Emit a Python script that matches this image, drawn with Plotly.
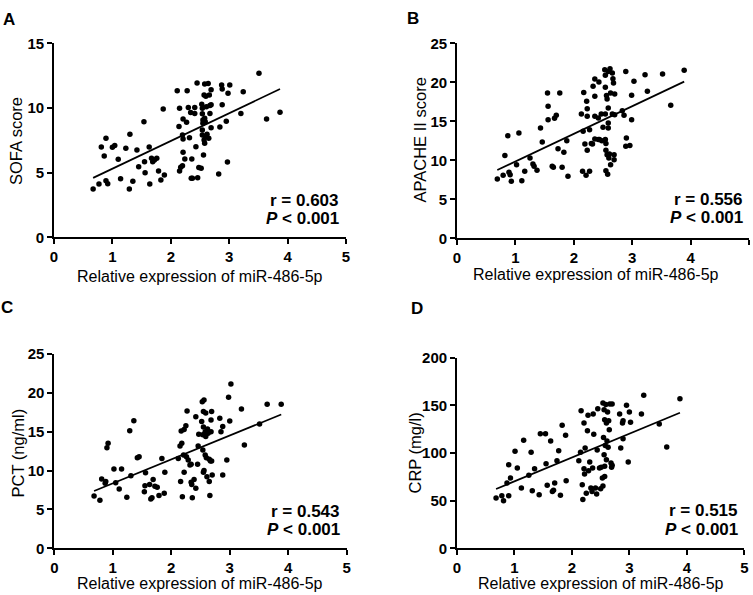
import numpy as np
import plotly.graph_objects as go

W, H = 753, 595
FONT = "Liberation Sans, Arial, Helvetica, sans-serif"

# ---------------- data ----------------
x_label = "Relative expression of miR-486-5p"
x_ticks = [0, 1, 2, 3, 4, 5]

sofa_x = [0.67, 0.77, 0.81, 0.86, 0.89, 0.89, 0.92, 1.00, 1.04, 1.10,
          1.14, 1.23, 1.29, 1.30, 1.35, 1.42, 1.45, 1.54, 1.55, 1.56,
          1.63, 1.64, 1.67, 1.69, 1.72, 1.76, 1.79, 1.83, 1.87, 1.89,
          2.11, 2.14, 2.15, 2.15, 2.17, 2.20, 2.20, 2.21, 2.21, 2.21,
          2.24, 2.27, 2.28, 2.30, 2.32, 2.34, 2.35, 2.36, 2.37, 2.41,
          2.41, 2.43, 2.45, 2.46, 2.48, 2.52, 2.53, 2.54, 2.54, 2.55,
          2.55, 2.54, 2.54, 2.56, 2.57, 2.57, 2.58, 2.58, 2.58, 2.59,
          2.59, 2.60, 2.61, 2.62, 2.64, 2.65, 2.66, 2.67, 2.67, 2.69,
          2.69, 2.69, 2.82, 2.84, 2.87, 2.88, 2.88, 2.95, 2.97, 2.98,
          3.01, 3.20, 3.24, 3.51, 3.64, 3.87]
sofa_y = [3.74, 4.12, 6.98, 6.29, 7.66, 4.38, 4.15, 6.96, 7.09, 6.03,
          4.53, 6.88, 3.74, 7.96, 4.33, 6.75, 5.46, 8.94, 5.85, 5.00,
          6.98, 4.12, 6.11, 5.85, 5.98, 6.11, 5.13, 4.43, 9.92, 4.82,
          11.34, 8.56, 9.98, 5.13, 5.41, 5.54, 7.91, 7.60, 9.15, 6.57,
          6.06, 8.89, 11.34, 10.04, 7.70, 9.64, 4.56, 6.06, 4.56, 10.04,
          9.58, 7.01, 11.93, 4.60, 5.39, 5.34, 10.29, 9.98, 9.56, 9.07,
          8.81, 8.30, 7.91, 6.37, 11.00, 7.52, 11.86, 9.20, 7.27, 8.94,
          7.78, 10.90, 10.10, 7.96, 11.90, 7.65, 11.00, 10.20, 9.58, 11.40,
          8.48, 10.25, 4.90, 8.52, 11.78, 11.47, 10.25, 8.97, 5.82, 11.13,
          11.78, 9.58, 11.26, 12.68, 9.15, 9.67]

apache_x = [0.69, 0.79, 0.82, 0.87, 0.89, 0.91, 0.93, 1.02, 1.06, 1.11,
            1.16, 1.25, 1.30, 1.32, 1.37, 1.43, 1.46, 1.55, 1.56, 1.56,
            1.63, 1.65, 1.67, 1.70, 1.73, 1.76, 1.80, 1.83, 1.88, 1.90,
            2.13, 2.15, 2.16, 2.17, 2.19, 2.21, 2.22, 2.23, 2.23, 2.23,
            2.27, 2.27, 2.30, 2.32, 2.33, 2.36, 2.36, 2.36, 2.36, 2.42,
            2.42, 2.43, 2.44, 2.47, 2.48, 2.50, 2.53, 2.54, 2.54, 2.54,
            2.54, 2.55, 2.55, 2.55, 2.56, 2.57, 2.57, 2.58, 2.59, 2.59,
            2.59, 2.59, 2.60, 2.61, 2.62, 2.63, 2.63, 2.66, 2.66, 2.67,
            2.68, 2.69, 2.69, 2.70, 2.70, 2.83, 2.86, 2.89, 2.90, 2.89,
            2.96, 2.99, 2.99, 3.03, 3.22, 3.26, 3.52, 3.66, 3.89]
apache_y = [7.60, 8.07, 10.60, 13.15, 8.46, 8.16, 7.30, 9.44, 13.50, 7.38,
            8.59, 10.30, 9.53, 9.23, 8.74, 14.14, 12.35, 18.63, 16.92, 15.20,
            9.23, 9.10, 15.40, 15.77, 11.49, 18.63, 9.10, 11.02, 12.51, 7.95,
            15.94, 8.59, 13.72, 18.70, 12.09, 8.07, 17.56, 16.62, 15.64, 11.30,
            13.92, 8.59, 12.16, 12.10, 19.48, 20.42, 18.20, 15.64, 12.73, 15.43,
            12.66, 20.04, 12.66, 15.94, 12.51, 14.23, 21.62, 20.90, 19.36, 15.94,
            12.66, 12.16, 11.30, 8.67, 18.30, 17.86, 10.72, 8.21, 21.40, 14.78,
            14.14, 16.70, 10.30, 10.80, 21.75, 18.63, 9.44, 21.19, 15.94, 20.46,
            19.90, 10.70, 10.08, 15.85, 18.50, 16.36, 15.77, 21.40, 12.86, 11.80,
            11.90, 15.20, 18.33, 20.13, 20.97, 18.85, 21.05, 17.05, 21.54]

pct_x = [0.68, 0.78, 0.81, 0.87, 0.88, 0.90, 0.92, 1.02, 1.05, 1.11,
         1.15, 1.24, 1.29, 1.31, 1.36, 1.42, 1.45, 1.54, 1.56, 1.55,
         1.63, 1.65, 1.67, 1.69, 1.72, 1.76, 1.79, 1.84, 1.88, 1.89,
         2.12, 2.15, 2.16, 2.18, 2.17, 2.19, 2.21, 2.22, 2.22, 2.25,
         2.26, 2.27, 2.29, 2.32, 2.34, 2.34, 2.35, 2.36, 2.39, 2.42,
         2.42, 2.45, 2.46, 2.47, 2.52, 2.53, 2.54, 2.54, 2.55, 2.55,
         2.55, 2.56, 2.56, 2.58, 2.58, 2.59, 2.59, 2.60, 2.61, 2.62,
         2.63, 2.65, 2.65, 2.66, 2.67, 2.68, 2.68, 2.69, 2.69, 2.70,
         2.83, 2.85, 2.88, 2.88, 2.95, 2.98, 3.00, 3.02, 3.20, 3.25,
         3.51, 3.64, 3.88]
pct_y = [6.73, 6.18, 8.92, 8.36, 8.58, 12.95, 13.51, 10.20, 8.45, 7.63,
         10.20, 6.56, 15.14, 9.34, 16.42, 11.66, 11.79, 7.29, 9.73, 8.06,
         8.20, 6.35, 6.50, 8.85, 7.98, 7.85, 6.78, 11.57, 7.08, 9.77,
         11.57, 13.17, 8.58, 13.51, 15.10, 6.63, 12.00, 15.30, 9.77, 15.78,
         11.79, 17.67, 11.36, 10.72, 10.80, 8.50, 8.20, 6.50, 8.85, 7.72,
         16.94, 10.80, 13.17, 14.67, 16.30, 18.87, 14.60, 12.65, 9.77, 17.60,
         15.60, 19.08, 10.00, 12.00, 14.99, 17.40, 14.40, 11.66, 9.22, 15.35,
         14.79, 11.45, 8.58, 6.78, 11.23, 16.51, 14.99, 17.60, 11.23, 9.43,
         16.73, 14.99, 15.67, 9.43, 11.36, 19.43, 16.38, 21.15, 17.93, 13.29,
         16.00, 18.53, 18.53]

crp_x = [0.68, 0.78, 0.81, 0.87, 0.90, 0.90, 0.93, 1.01, 1.05, 1.12,
         1.16, 1.25, 1.29, 1.31, 1.35, 1.43, 1.45, 1.54, 1.55, 1.57,
         1.63, 1.66, 1.68, 1.70, 1.74, 1.77, 1.80, 1.83, 1.89, 1.90,
         2.12, 2.15, 2.16, 2.18, 2.19, 2.21, 2.21, 2.22, 2.23, 2.25,
         2.27, 2.28, 2.29, 2.31, 2.33, 2.35, 2.37, 2.38, 2.36, 2.41,
         2.43, 2.44, 2.45, 2.48, 2.50, 2.51, 2.53, 2.54, 2.54, 2.55,
         2.56, 2.56, 2.57, 2.57, 2.57, 2.58, 2.59, 2.60, 2.60, 2.61,
         2.62, 2.63, 2.64, 2.65, 2.66, 2.68, 2.69, 2.70, 2.70, 2.83,
         2.85, 2.88, 2.89, 2.89, 2.95, 2.98, 3.00, 3.02, 3.21, 3.25,
         3.52, 3.65, 3.88]
crp_y = [52.8, 55.2, 50.0, 68.5, 55.2, 87.7, 73.8, 101.8, 84.3, 63.3,
         113.3, 76.6, 100.8, 60.4, 83.6, 56.2, 120.3, 120.3, 88.8, 66.1,
         112.6, 59.7, 60.8, 68.5, 91.9, 102.4, 55.6, 129.0, 118.6, 70.9,
         91.9, 100.9, 144.4, 66.8, 51.2, 131.5, 83.6, 78.0, 105.2, 57.8,
         123.4, 139.5, 81.4, 90.6, 63.3, 59.7, 140.9, 119.6, 84.3, 63.3,
         57.0, 103.1, 146.5, 84.3, 62.6, 85.0, 73.8, 152.5, 65.5, 116.3,
         145.4, 98.2, 75.4, 135.0, 86.1, 108.0, 150.8, 131.5, 93.0, 112.6,
         143.0, 106.0, 133.9, 124.5, 151.5, 89.6, 85.0, 151.5, 87.1, 140.9,
         105.2, 131.5, 133.9, 115.0, 150.0, 90.6, 143.0, 132.2, 140.9, 160.5,
         130.4, 106.3, 157.0]

panel_letters = ["A", "B", "C", "D"]
y_titles = ["SOFA score", "APACHE II score", "PCT (ng/ml)", "CRP (mg/l)"]
y_ticks = [[0, 5, 10, 15], [0, 5, 10, 15, 20, 25],
           [0, 5, 10, 15, 20, 25], [0, 50, 100, 150, 200]]
r_values = ["0.603", "0.556", "0.543", "0.515"]
p_text = "< 0.001"

xs = [sofa_x, apache_x, pct_x, crp_x]
ys = [sofa_y, apache_y, pct_y, crp_y]

# ---------------- layout geometry (pixels) ----------------
# plot box: left, right, top, bottom
boxes = [(54, 346, 43.3, 237.3), (457, 749, 43.3, 238.3),
         (54.3, 346.7, 354, 548.3), (457, 744.3, 357.7, 548.3)]
letter_pos = [(9, 20), (413, 18.5), (7, 307), (417, 308)]
xtitle_pos = [(200, 276.5), (596, 274.5), (200, 583.5), (601, 583.5)]
ytitle_pos = [(16, 141), (419.5, 140), (17.5, 453), (414.5, 453)]
stat_pos = [(341, 200, 218), (745, 199.5, 217.5), (342, 511.5, 529.5),
            (740, 511, 529)]


def fx(px):
    return px / W


def fy(py):
    return 1 - py / H


def bold_labels(vals):
    return ["<b>%g</b>" % v for v in vals]


fig = go.Figure()
annotations = []
layout = {}

for i in range(4):
    n = i + 1
    sx = "" if n == 1 else str(n)
    l, r, t, b = boxes[i]
    x = np.array(xs[i])
    y = np.array(ys[i])

    fig.add_trace(go.Scatter(
        x=x, y=y, mode="markers", xaxis="x" + sx, yaxis="y" + sx,
        marker=dict(color="black", size=5.5, line=dict(width=0)),
        hoverinfo="x+y", cliponaxis=False))

    slope, intercept = np.polyfit(x, y, 1)
    lx = np.array([x.min(), x.max()])
    fig.add_trace(go.Scatter(
        x=lx, y=slope * lx + intercept, mode="lines",
        xaxis="x" + sx, yaxis="y" + sx,
        line=dict(color="black", width=1.7), hoverinfo="skip"))

    common = dict(showline=True, linecolor="black", linewidth=1.7,
                  ticks="outside", ticklen=5, tickwidth=1.7, tickcolor="black",
                  showgrid=False, zeroline=False, fixedrange=True,
                  automargin=False,
                  tickfont=dict(family=FONT, size=15, color="black"))
    layout["xaxis" + sx] = dict(
        domain=[fx(l), fx(r)], range=[0, 5], tickmode="array",
        tickvals=x_ticks, ticktext=bold_labels(x_ticks),
        anchor="y" + sx, **common)
    yt = y_ticks[i]
    layout["yaxis" + sx] = dict(
        domain=[fy(b), fy(t)], range=[0, yt[-1]], tickmode="array",
        tickvals=yt, ticktext=bold_labels(yt),
        anchor="x" + sx, **common)

    lxp, lyp = letter_pos[i]
    annotations.append(dict(
        text="<b>%s</b>" % panel_letters[i], x=fx(lxp), y=fy(lyp),
        xref="paper", yref="paper", showarrow=False,
        xanchor="center", yanchor="middle",
        font=dict(family=FONT, size=17, color="black")))

    txp, typ = xtitle_pos[i]
    annotations.append(dict(
        text=x_label, x=fx(txp), y=fy(typ), xref="paper", yref="paper",
        showarrow=False, xanchor="center", yanchor="middle",
        font=dict(family=FONT, size=16, color="black")))

    tyx, tyy = ytitle_pos[i]
    annotations.append(dict(
        text=y_titles[i], x=fx(tyx), y=fy(tyy), xref="paper", yref="paper",
        showarrow=False, xanchor="center", yanchor="middle", textangle=-90,
        font=dict(family=FONT, size=16.5, color="black")))

    sxp, ry, py_ = stat_pos[i]
    annotations.append(dict(
        text="<b>r = %s</b>" % r_values[i], x=fx(sxp), y=fy(ry),
        xref="paper", yref="paper", showarrow=False,
        xanchor="right", yanchor="middle",
        font=dict(family=FONT, size=17, color="black")))
    annotations.append(dict(
        text="<b><i>P</i> %s</b>" % p_text.replace("<", "&lt;"),
        x=fx(sxp), y=fy(py_), xref="paper", yref="paper", showarrow=False,
        xanchor="right", yanchor="middle",
        font=dict(family=FONT, size=17, color="black")))

fig.update_layout(
    width=W, height=H,
    margin=dict(l=0, r=0, t=0, b=0, pad=0, autoexpand=False),
    paper_bgcolor="white", plot_bgcolor="white", showlegend=False,
    font=dict(family=FONT, color="black"),
    annotations=annotations, **layout)

fig.write_html(
    "out.html", config={"displayModeBar": False},
    post_script="document.body.style.margin='0';"
                "document.body.style.overflow='hidden';")
